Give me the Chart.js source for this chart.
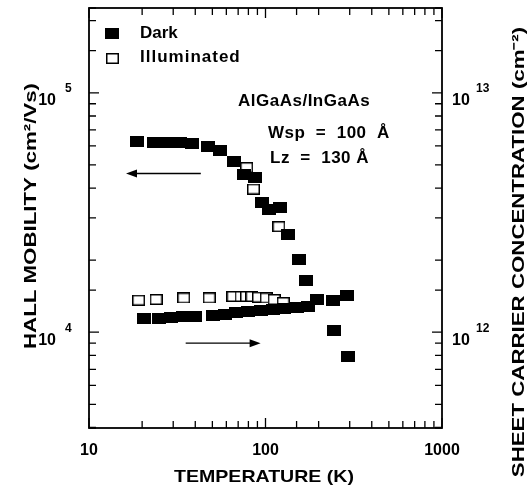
<!DOCTYPE html>
<html>
<head>
<meta charset="utf-8">
<script src="https://cdn.jsdelivr.net/npm/chart.js@4.4.1/dist/chart.umd.min.js"></script>
<style>
  html, body { margin: 0; padding: 0; background: #fff; }
</style>
</head>
<body>
<canvas id="graficoHall" width="527" height="490"></canvas>
<script>
// Movilidad Hall (cm2/Vs) frente a temperatura (K)
const tempMovOscuro = [18.8, 23.4, 27.6, 32.7, 38.5, 47.3, 55.3, 65.9, 75.6, 87.3, 95.5, 105, 121, 134, 155, 169, 195, 245, 294];
const movOscuro = [62500, 61900, 61900, 61900, 61600, 59900, 57300, 51800, 45700, 44200, 34700, 32500, 33200, 25600, 20200, 16500, 13700, 10200, 7940];
const tempMovIlum = [78.2, 85.5, 119];
const movIlum = [48700, 39600, 27600];

// Concentracion de portadores (cm-2) frente a temperatura (K)
const tempConcOscuro = [20.4, 24.9, 29.0, 34.0, 39.7, 50.2, 58.6, 68.5, 80.1, 93.7, 110, 128, 150, 173, 242, 290];
const concOscuro = [1.144e12, 1.144e12, 1.155e12, 1.16e12, 1.166e12, 1.177e12, 1.188e12, 1.205e12, 1.217e12, 1.229e12, 1.241e12, 1.253e12, 1.265e12, 1.283e12, 1.36e12, 1.42e12];
const tempConcIlum = [19.1, 24.0, 34.4, 48.0, 65.4, 72.7, 78.1, 83.8, 91.2, 101, 112, 126];
const concIlum = [1.36e12, 1.37e12, 1.39e12, 1.39e12, 1.41e12, 1.41e12, 1.41e12, 1.41e12, 1.40e12, 1.39e12, 1.37e12, 1.33e12];

// Etiquetas de los ejes
const ticksTemp = [10, 100, 1000];
const ticksMov = [1e4, 1e5];
const ticksConc = [1e12, 1e13];

const FUENTE = '"Liberation Sans", Arial, Helvetica, sans-serif';

function aPuntos(xs, ys) {
    return xs.map((x, i) => ({ x: x, y: ys[i] }));
}

function esPotencia(v) {
    const e = Math.round(Math.log10(v));
    return Math.abs(v - Math.pow(10, e)) / v < 1e-6;
}

function enLista(lista, v) {
    return lista.some(t => Math.abs(t - v) / t < 1e-6);
}

// Marcadores: cuadrado relleno (oscuro) y hueco (iluminado)
function crearMarcador(relleno) {
    const c = document.createElement('canvas');
    c.width = relleno ? 14 : 13;
    c.height = 11;
    const g = c.getContext('2d');
    g.fillStyle = relleno ? '#000' : '#fff';
    g.fillRect(0, 0, c.width, c.height);
    if (!relleno) {
        g.strokeStyle = '#000';
        g.lineWidth = 1.5;
        g.strokeRect(0.75, 0.75, c.width - 1.5, c.height - 1.5);
    }
    return c;
}
const marcaOscuro = crearMarcador(true);
const marcaIlum = crearMarcador(false);

// Rango del eje izquierdo; el derecho es el mismo multiplicado por 1e8
const movMin = 3980, movMax = 2.26e5;

function flecha(ctx, x1, x2, y) {
    const dir = x2 > x1 ? 1 : -1;
    ctx.beginPath();
    ctx.moveTo(x1, y);
    ctx.lineTo(x2 - dir * 8, y);
    ctx.stroke();
    ctx.beginPath();
    ctx.moveTo(x2, y);
    ctx.lineTo(x2 - dir * 11, y - 4);
    ctx.lineTo(x2 - dir * 11, y + 4);
    ctx.closePath();
    ctx.fill();
}

// Texto estirado a lo largo de su direccion (el original es mas ancho)
function textoAncho(ctx, texto, x, y, ang, escala) {
    ctx.save();
    ctx.translate(x, y);
    ctx.rotate(ang);
    ctx.scale(escala, 1);
    ctx.textAlign = 'center';
    ctx.textBaseline = 'middle';
    ctx.fillText(texto, 0, 0);
    ctx.restore();
}

function sinRelleno(s) {
    s.paddingTop = 0; s.paddingBottom = 0; s.paddingLeft = 0; s.paddingRight = 0;
}

const marcoYNotas = {
    id: 'marcoYNotas',
    afterDraw(chart) {
        const ctx = chart.ctx;
        const a = chart.chartArea;
        const sx = chart.scales.x, sy = chart.scales.y, sy2 = chart.scales.y2;
        ctx.save();
        ctx.strokeStyle = '#000';
        ctx.fillStyle = '#000';

        // Marco
        ctx.lineWidth = 1.8;
        ctx.strokeRect(a.left, a.top, a.right - a.left, a.bottom - a.top);

        // Marcas hacia adentro en los cuatro lados
        ctx.lineWidth = 1.3;
        ctx.beginPath();
        sx.ticks.forEach(t => {
            const p = sx.getPixelForValue(t.value);
            const l = esPotencia(t.value) ? 10 : 7;
            ctx.moveTo(p, a.bottom); ctx.lineTo(p, a.bottom - l);
            ctx.moveTo(p, a.top); ctx.lineTo(p, a.top + l);
        });
        sy.ticks.forEach(t => {
            const p = sy.getPixelForValue(t.value);
            const l = esPotencia(t.value) ? 10 : 7;
            ctx.moveTo(a.left, p); ctx.lineTo(a.left + l, p);
        });
        sy2.ticks.forEach(t => {
            const p = sy2.getPixelForValue(t.value);
            const l = esPotencia(t.value) ? 10 : 7;
            ctx.moveTo(a.right, p); ctx.lineTo(a.right - l, p);
        });
        ctx.stroke();

        // Exponentes de las etiquetas 10^n
        ctx.font = 'bold 12px ' + FUENTE;
        ctx.textBaseline = 'middle';
        ctx.textAlign = 'left';
        ticksMov.forEach(v => {
            ctx.fillText(String(Math.round(Math.log10(v))), 65, sy.getPixelForValue(v) - 4);
        });
        ticksConc.forEach(v => {
            ctx.fillText(String(Math.round(Math.log10(v))), 476, sy2.getPixelForValue(v) - 4);
        });

        // Flechas que indican el eje de cada curva
        ctx.lineWidth = 1.4;
        flecha(ctx, sx.getPixelForValue(43), sx.getPixelForValue(16.2), sy.getPixelForValue(46000));
        flecha(ctx, sx.getPixelForValue(35.3), sx.getPixelForValue(93.8), sy.getPixelForValue(9000));

        // Leyenda
        ctx.font = 'bold 17px ' + FUENTE;
        ctx.drawImage(marcaOscuro, 105, 28);
        ctx.fillText(chart.data.datasets[0].label, 140, 33);
        ctx.drawImage(marcaIlum, 106, 53);
        ctx.letterSpacing = '1px';
        ctx.fillText(chart.data.datasets[2].label, 140, 57);
        ctx.letterSpacing = '0.5px';

        // Notas
        ctx.fillText('AlGaAs/InGaAs', 238, 101);
        ctx.fillText('Wsp  =  100  Å', 268, 133);
        ctx.fillText('Lz  =  130 Å', 270, 158);
        ctx.letterSpacing = '0px';

        // Titulos de los ejes
        ctx.font = 'bold 17px ' + FUENTE;
        textoAncho(ctx, 'TEMPERATURE (K)', 264, 477, 0, 1.15);
        textoAncho(ctx, 'HALL MOBILITY (cm²/Vs)', 31, 216, -Math.PI / 2, 1.31);
        textoAncho(ctx, 'SHEET CARRIER CONCENTRATION (cm⁻²)', 519, 252, -Math.PI / 2, 1.31);
        ctx.restore();
    }
};

const fuenteTicks = { family: FUENTE, size: 16, weight: 'bold' };

new Chart(document.getElementById('graficoHall').getContext('2d'), {
    type: 'scatter',
    data: {
        datasets: [
            { label: 'Dark', data: aPuntos(tempMovOscuro, movOscuro), yAxisID: 'y', pointStyle: marcaOscuro, pointRadius: 7 },
            { label: 'Dark', data: aPuntos(tempConcOscuro, concOscuro), yAxisID: 'y2', pointStyle: marcaOscuro, pointRadius: 7 },
            { label: 'Illuminated', data: aPuntos(tempMovIlum, movIlum), yAxisID: 'y', pointStyle: marcaIlum, pointRadius: 7 },
            { label: 'Illuminated', data: aPuntos(tempConcIlum, concIlum), yAxisID: 'y2', pointStyle: marcaIlum, pointRadius: 7 }
        ]
    },
    options: {
        responsive: false,
        animation: false,
        devicePixelRatio: 1,
        layout: { padding: { top: 7, left: 0, right: 0, bottom: 0 } },
        plugins: { legend: { display: false }, tooltip: { enabled: false } },
        scales: {
            x: {
                type: 'logarithmic',
                min: 10,
                max: 1000,
                grid: { display: false },
                border: { display: false },
                ticks: { color: '#000', font: fuenteTicks, padding: 5, maxRotation: 0, autoSkip: false,
                    callback: v => enLista(ticksTemp, v) ? String(Math.round(v)) : '' },
                afterFit: s => { s.height = 62; sinRelleno(s); }
            },
            y: {
                type: 'logarithmic',
                position: 'left',
                min: movMin,
                max: movMax,
                grid: { display: false },
                border: { display: false },
                ticks: { color: '#000', font: fuenteTicks, padding: 25, labelOffset: 8, autoSkip: false,
                    callback: v => enLista(ticksMov, v) ? '10' : '' },
                afterFit: s => { s.width = 89; sinRelleno(s); }
            },
            y2: {
                type: 'logarithmic',
                position: 'right',
                min: movMin * 1e8,
                max: movMax * 1e8,
                grid: { display: false },
                border: { display: false },
                ticks: { color: '#000', font: fuenteTicks, padding: 2, labelOffset: 8, autoSkip: false,
                    callback: v => enLista(ticksConc, v) ? '10' : '' },
                afterFit: s => { s.width = 85; sinRelleno(s); }
            }
        }
    },
    plugins: [marcoYNotas]
});
</script>
</body>
</html>
